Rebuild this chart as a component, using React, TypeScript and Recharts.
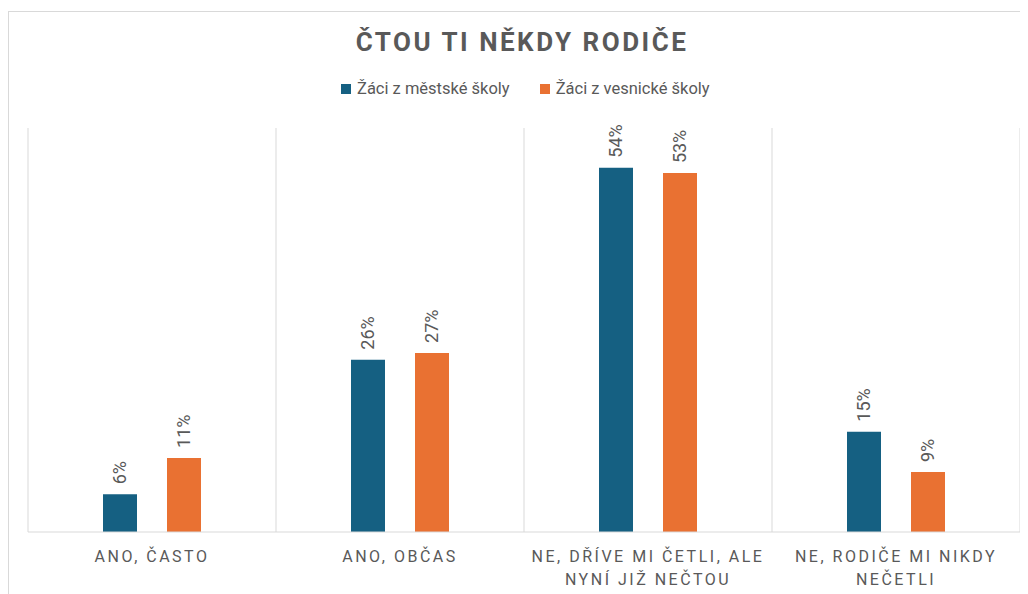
import React from "react";
import { BarChart, Bar, XAxis, YAxis, CartesianGrid, LabelList } from "recharts";

const categories = [
  "ANO, ČASTO",
  "ANO, OBČAS",
  "NE, DŘÍVE MI ČETLI, ALE\nNYNÍ JIŽ NEČTOU",
  "NE, RODIČE MI NIKDY\nNEČETLI",
];
const mestske = [5.6, 25.6, 54.1, 14.9];
const vesnicke = [11.0, 26.6, 53.3, 8.9];

const SERIES = [
  { key: "mestske", name: "Žáci z městské školy", color: "#156082" },
  { key: "vesnicke", name: "Žáci z vesnické školy", color: "#E97132" },
];

const TEXT = "#595959";
const GRID = "#d9d9d9";
const FONT = "Roboto, 'Noto Sans', sans-serif";

const data = categories.map((c, i) => ({
  category: c,
  mestske: mestske[i],
  vesnicke: vesnicke[i],
}));

const CategoryTick = (props: any) => {
  const { x, y, payload } = props;
  const lines = String(payload.value).split("\n");
  return (
    <text
      x={x}
      y={y + 22}
      textAnchor="middle"
      fill={TEXT}
      fontSize={16}
      fontFamily={FONT}
      letterSpacing={2.5}
    >
      {lines.map((l, i) => (
        <tspan key={i} x={x} dy={i === 0 ? 0 : 23}>
          {l}
        </tspan>
      ))}
    </text>
  );
};

const RotatedLabel = (props: any) => {
  const { x, y, width, value } = props;
  const cx = x + width / 2;
  const ly = y - 10;
  return (
    <text
      x={cx}
      y={ly}
      transform={`rotate(-90, ${cx}, ${ly})`}
      textAnchor="start"
      dominantBaseline="central"
      fill={TEXT}
      fontSize={18}
      fontFamily={FONT}
    >
      {`${Math.round(value)}%`}
    </text>
  );
};

export default function App() {
  return (
    <div style={{ position: "relative", width: 1020, height: 586, overflow: "hidden" }}>
      <div
        style={{
          position: "absolute",
          left: 0,
          top: 3,
          width: 1040,
          height: 600,
          borderTop: `1px solid ${GRID}`,
          borderLeft: `1px solid ${GRID}`,
        }}
      />
      <div
        style={{
          position: "absolute",
          left: 0,
          top: 19,
          width: 1028,
          textAlign: "center",
          fontFamily: FONT,
          fontWeight: 700,
          fontSize: 26,
          letterSpacing: 2.5,
          color: TEXT,
        }}
      >
        ČTOU TI NĚKDY RODIČE
      </div>
      <div
        style={{
          position: "absolute",
          left: 333,
          top: 71,
          display: "flex",
          gap: 30,
          fontFamily: FONT,
          fontSize: 16.5,
          color: TEXT,
        }}
      >
        {SERIES.map((s) => (
          <div key={s.key} style={{ display: "flex", alignItems: "center" }}>
            <span
              style={{ width: 10, height: 10, background: s.color, display: "inline-block", marginRight: 6 }}
            />
            {s.name}
          </div>
        ))}
      </div>
      <BarChart
        width={1020}
        height={586}
        data={data}
        margin={{ top: 120, right: 8, left: 20, bottom: 0 }}
        barSize={34}
        barGap={30}
      >
        <CartesianGrid
          horizontal={false}
          stroke={GRID}
          verticalCoordinatesGenerator={({ offset }: any) =>
            categories.map((_, i) => offset.left + (i * offset.width) / categories.length).concat(offset.left + offset.width)
          }
        />
        <XAxis
          dataKey="category"
          axisLine={{ stroke: GRID }}
          tickLine={false}
          height={62}
          interval={0}
          tick={<CategoryTick />}
        />
        <YAxis hide domain={[0, 60]} />
        {SERIES.map((s) => (
          <Bar key={s.key} dataKey={s.key} name={s.name} fill={s.color} isAnimationActive={false}>
            <LabelList dataKey={s.key} content={<RotatedLabel />} />
          </Bar>
        ))}
      </BarChart>
    </div>
  );
}
